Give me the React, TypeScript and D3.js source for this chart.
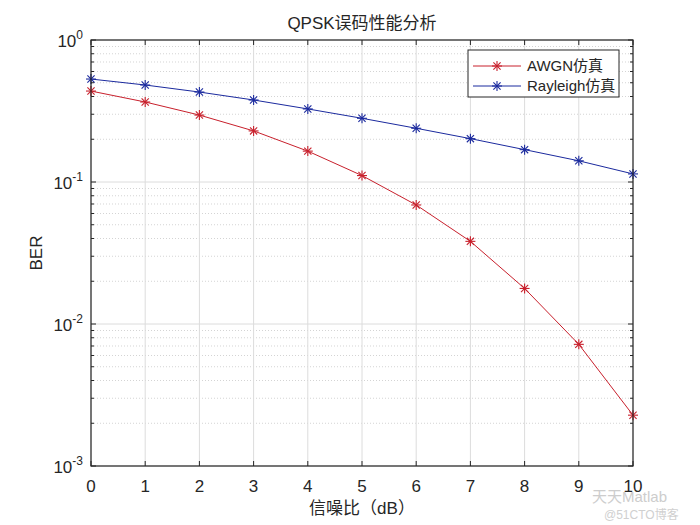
import React from "react";
import * as d3 from "d3";

const snr = [0, 1, 2, 3, 4, 5, 6, 7, 8, 9, 10];
const awgn = [0.437, 0.366, 0.296, 0.229, 0.165, 0.111, 0.0689, 0.0382, 0.0178, 0.00719, 0.00228];
const rayleigh = [0.531, 0.482, 0.43, 0.378, 0.327, 0.281, 0.239, 0.202, 0.169, 0.141, 0.114];
const xTicks = [0, 1, 2, 3, 4, 5, 6, 7, 8, 9, 10];
const yDecades = [0, -1, -2, -3];
const seriesNames = ["AWGN仿真", "Rayleigh仿真"];
const title = "QPSK误码性能分析";
const xLabel = "信噪比（dB）";
const yLabel = "BER";

const W = 700, H = 525;
const L = 91, R = 633, T = 40, B = 466;
const RED = "#c8202c";
const BLUE = "#1b2a9e";
const FONT = "Arial, 'Liberation Sans', 'Noto Sans CJK SC', sans-serif";

function Star({ x, y, color }: { x: number; y: number; color: string }) {
  const r = 5, d = 3.6;
  return (
    <g stroke={color} strokeWidth={1.1}>
      <line x1={x - r} y1={y} x2={x + r} y2={y} />
      <line x1={x} y1={y - r} x2={x} y2={y + r} />
      <line x1={x - d} y1={y - d} x2={x + d} y2={y + d} />
      <line x1={x - d} y1={y + d} x2={x + d} y2={y - d} />
    </g>
  );
}

export default function App() {
  const xs = d3.scaleLinear().domain([0, 10]).range([L, R]);
  const ys = d3.scaleLog().domain([1e-3, 1]).range([B, T]);
  const line = d3.line<number>().x((_, i) => xs(snr[i])).y((v) => ys(v));
  const minor: number[] = [];
  for (const e of [-3, -2, -1]) for (let k = 2; k <= 9; k++) minor.push(k * Math.pow(10, e));
  const series = [
    { data: awgn, color: RED },
    { data: rayleigh, color: BLUE },
  ];
  const legX = 468, legY = 50, legW = 151, legH = 47;
  return (
    <svg width={W} height={H} style={{ position: "absolute", left: 0, top: 0, background: "#fff" }} fontFamily={FONT}>
      <rect x={0} y={0} width={W} height={H} fill="#fff" />
      {minor.map((v) => (
        <line key={"mg" + v} x1={L} x2={R} y1={ys(v)} y2={ys(v)} stroke="#d4d4d4" strokeWidth={1} strokeDasharray="1,2" />
      ))}
      {yDecades.map((e) => (
        <line key={"yg" + e} x1={L} x2={R} y1={ys(Math.pow(10, e))} y2={ys(Math.pow(10, e))} stroke="#dcdcdc" strokeWidth={1} />
      ))}
      {xTicks.map((t) => (
        <line key={"xg" + t} x1={xs(t)} x2={xs(t)} y1={T} y2={B} stroke="#dcdcdc" strokeWidth={1} />
      ))}
      {series.map((s, si) => (
        <g key={"s" + si}>
          <path d={line(s.data) || ""} fill="none" stroke={s.color} strokeWidth={1} />
          {s.data.map((v, i) => (
            <Star key={i} x={xs(snr[i])} y={ys(v)} color={s.color} />
          ))}
        </g>
      ))}
      <rect x={L} y={T} width={R - L} height={B - T} fill="none" stroke="#262626" strokeWidth={1.2} />
      {xTicks.map((t) => (
        <g key={"xt" + t}>
          <line x1={xs(t)} x2={xs(t)} y1={B} y2={B - 5} stroke="#262626" />
          <line x1={xs(t)} x2={xs(t)} y1={T} y2={T + 5} stroke="#262626" />
          <text x={xs(t)} y={B + 26} textAnchor="middle" fontSize={17} fill="#262626">{t}</text>
        </g>
      ))}
      {yDecades.map((e) => (
        <g key={"yt" + e}>
          <line x1={L} x2={L + 5} y1={ys(Math.pow(10, e))} y2={ys(Math.pow(10, e))} stroke="#262626" />
          <line x1={R} x2={R - 5} y1={ys(Math.pow(10, e))} y2={ys(Math.pow(10, e))} stroke="#262626" />
          <text x={L - 8} y={ys(Math.pow(10, e)) + 7} textAnchor="end" fontSize={17} fill="#262626">
            10<tspan dy={-8} fontSize={12}>{e}</tspan>
          </text>
        </g>
      ))}
      {minor.map((v) => (
        <g key={"ym" + v}>
          <line x1={L} x2={L + 3} y1={ys(v)} y2={ys(v)} stroke="#262626" />
          <line x1={R} x2={R - 3} y1={ys(v)} y2={ys(v)} stroke="#262626" />
        </g>
      ))}
      <text x={(L + R) / 2} y={29} textAnchor="middle" fontSize={17} fill="#262626">{title}</text>
      <text x={(L + R) / 2} y={514} textAnchor="middle" fontSize={17} fill="#262626">{xLabel}</text>
      <text transform={`translate(42,${(T + B) / 2}) rotate(-90)`} textAnchor="middle" fontSize={17} fill="#262626">{yLabel}</text>
      <rect x={legX} y={legY} width={legW} height={legH} fill="#fff" stroke="#262626" strokeWidth={1} />
      {series.map((s, i) => {
        const cy = legY + 16 + i * 20;
        return (
          <g key={"lg" + i}>
            <line x1={legX + 5} x2={legX + 53} y1={cy} y2={cy} stroke={s.color} strokeWidth={1} />
            <Star x={legX + 29} y={cy} color={s.color} />
            <text x={legX + 59} y={cy + 5} fontSize={15} fill="#262626">{seriesNames[i]}</text>
          </g>
        );
      })}
      <text x={592} y={502} textAnchor="start" fontSize={15} fill="#c8c8c8" opacity={0.9}>天天Matlab</text>
      <text x={604} y={519} textAnchor="start" fontSize={12} fill="#d0d0d0">@51CTO博客</text>
    </svg>
  );
}
